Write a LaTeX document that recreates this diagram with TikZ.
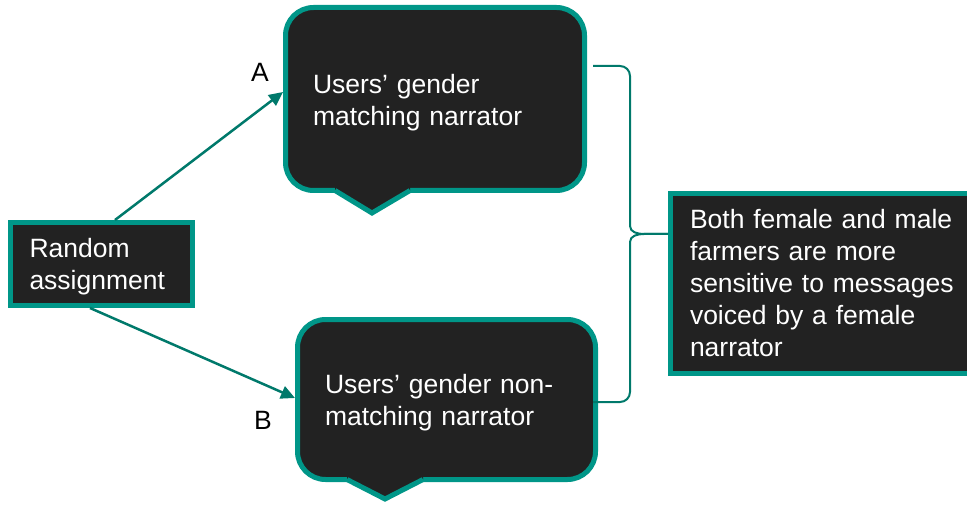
\documentclass[tikz,border=0pt]{standalone}
\usepackage{fontspec}
\setmainfont{Liberation Sans}
\usepackage{tikz}
\usetikzlibrary{arrows.meta,positioning,calc}
\usepackage{xcolor}
\definecolor{boxteal}{HTML}{009688}
\definecolor{linkteal}{HTML}{00796B}
\definecolor{boxdark}{HTML}{222222}

\begin{document}
\begin{tikzpicture}[x=1pt, y=-1pt,
      startbox/.style={draw=boxteal, fill=boxdark, line width=5pt, text=white, align=left, font=\fontsize{26.5}{32}\selectfont},
      bubble/.style={startbox, rounded corners=28pt, inner xsep=27.5pt},
      tailfill/.style={fill=boxdark},
      tailline/.style={draw=boxteal, line width=5pt, line join=miter},
      arrowstyle/.style={-{Triangle[length=14pt,width=13pt]}, draw=linkteal, line width=2.5pt},
      bracestyle/.style={draw=linkteal, line width=2pt},
      tag/.style={font=\fontsize{26.5}{32}\selectfont}
    ]
    \useasboundingbox (0,0) rectangle (967,505);
    \clip (0,0) rectangle (967,505);

    \node[startbox, inner xsep=19.5pt, text width=143pt, minimum height=83pt] (rand) at (101,264) {\rule{0pt}{25pt}Random\\assignment};
    \node[bubble, text width=244pt, minimum height=183pt] (match) at (435,99) {\rule{0pt}{27pt}Users’ gender\\matching narrator};
    \node[bubble, text width=243pt, minimum height=160pt] (nonmatch) at (446.5,399.5) {\rule{0pt}{25pt}Users’ gender non-\\matching narrator};
    \node[startbox, inner xsep=19.5pt, text width=290pt, minimum height=180pt] (result) at (835,283.5) {Both female and male\\farmers are more\\sensitive to messages\\voiced by a female\\narrator};

    % callout tails
    \fill[tailfill] ($(match.south)+(-100,-6.5)$) -- ($(match.south)+(-100,-2.5)$) -- ($(match.south)+(-63,20)$) -- ($(match.south)+(-25,-2.5)$) -- ($(match.south)+(-25,-6.5)$) -- cycle;
    \draw[tailline] ($(match.south)+(-100,-2.5)$) -- ($(match.south)+(-63,20)$) -- ($(match.south)+(-25,-2.5)$);
    \fill[tailfill] ($(nonmatch.south)+(-99.5,-6.5)$) -- ($(nonmatch.south)+(-99.5,-2.5)$) -- ($(nonmatch.south)+(-61.5,17)$) -- ($(nonmatch.south)+(-23.5,-2.5)$) -- ($(nonmatch.south)+(-23.5,-6.5)$) -- cycle;
    \draw[tailline] ($(nonmatch.south)+(-99.5,-2.5)$) -- ($(nonmatch.south)+(-61.5,17)$) -- ($(nonmatch.south)+(-23.5,-2.5)$);

    \draw[arrowstyle] ([xshift=14pt]rand.north) -- ([yshift=7pt]match.west);
    \draw[arrowstyle] ([xshift=-11pt]rand.south) -- ([yshift=1.5pt]nonmatch.west);
    \node[tag] (labA) at (260,72) {A};
    \node[tag] (labB) at (263,420) {B};

    % brace
    \coordinate (brtop) at (593,66);
    \coordinate (brbot) at (593,402);
    \coordinate (brtip) at ([yshift=49.5pt]result.west);
    \draw[bracestyle] (brtop) -- (620,66) to[out=0,in=90] (630,76) -- (630,226) to[out=-90,in=180] (644,234) -- (brtip);
    \draw[bracestyle] (brtip) -- (644,234) to[out=180,in=90] (630,242) -- (630,392) to[out=-90,in=0] (620,402) -- (brbot);
  \end{tikzpicture}
\end{document}
